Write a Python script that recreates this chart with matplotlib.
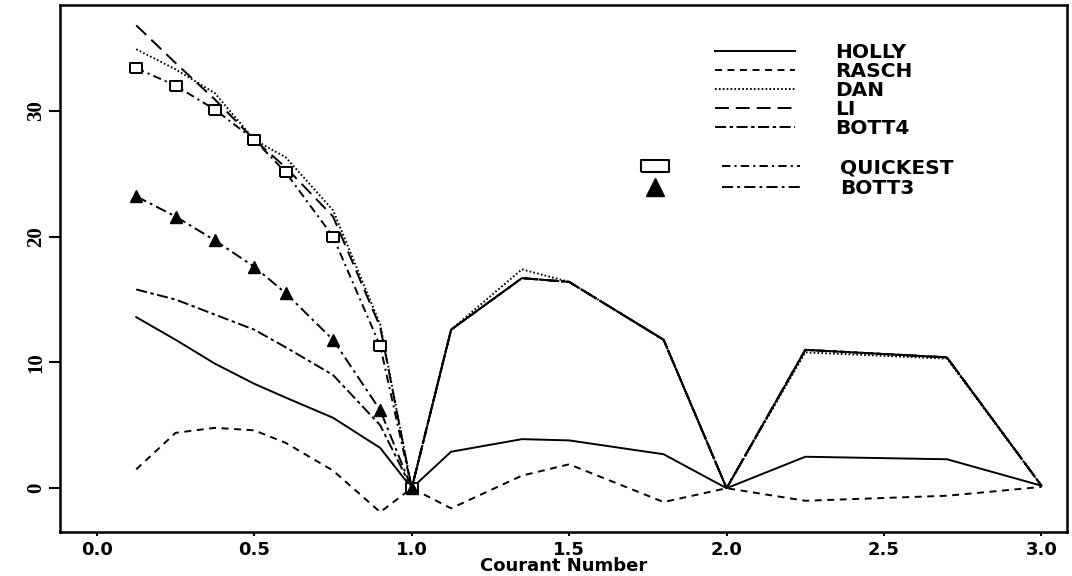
import numpy as np
import matplotlib.pyplot as plt
from matplotlib.lines import Line2D
from matplotlib.legend_handler import HandlerTuple

plt.rcParams['font.family'] = ['DejaVu Sans']
plt.rcParams['font.weight'] = 'bold'
plt.rcParams['lines.scale_dashes'] = False

# Courant numbers
courant = [0.125, 0.25, 0.375, 0.5, 0.6, 0.75, 0.9, 1.0,
           1.125, 1.35, 1.5, 1.8, 2.0, 2.25, 2.7, 3.0]

holly = [13.6, 11.8, 9.9, 8.3, 7.2, 5.6, 3.2, 0.0,
         2.9, 3.9, 3.8, 2.7, 0.0, 2.5, 2.3, 0.2]
rasch = [1.5, 4.4, 4.8, 4.6, 3.6, 1.4, -1.9, 0.0,
         -1.6, 1.0, 1.9, -1.1, 0.0, -1.0, -0.6, 0.1]
dan = [34.9, 33.3, 31.4, 27.7, 26.3, 22.1, 13.0, 0.0,
       12.6, 17.4, 16.4, 11.8, 0.0, 10.8, 10.3, 0.2]
li = [36.8, 33.8, 30.9, 27.7, 25.5, 21.6, 12.8, 0.0,
      12.6, 16.7, 16.4, 11.8, 0.0, 11.0, 10.4, 0.2]
bott4 = [15.8, 15.0, 13.8, 12.6, 11.2, 9.0, 5.0, 0.0,
         12.6, 16.7, 16.4, 11.8, 0.0, 11.0, 10.4, 0.2]
quickest = [33.4, 32.0, 30.1, 27.7, 25.1, 20.0, 11.3, 0.0,
            12.6, 16.7, 16.4, 11.8, 0.0, 11.0, 10.4, 0.2]
bott3 = [23.2, 21.6, 19.7, 17.6, 15.5, 11.8, 6.2, 0.0,
         12.6, 16.7, 16.4, 11.8, 0.0, 11.0, 10.4, 0.2]

# slightly flattened box marker, as in the printed figure
box_small = [(-1.2, -1), (1.2, -1), (1.2, 1), (-1.2, 1), (-1.2, -1)]
box_wide = [(-1.2, -0.5), (1.2, -0.5), (1.2, 0.5), (-1.2, 0.5), (-1.2, -0.5)]

fig = plt.figure(figsize=(10.72, 5.76), dpi=100)
ax = fig.add_axes([0.056, 0.076, 0.939, 0.915])

lw = 1.4
l_holly, = ax.plot(courant, holly, color='black', lw=lw, ls='-')
l_rasch, = ax.plot(courant, rasch, color='black', lw=lw, ls=(0, (5, 4)))
l_dan, = ax.plot(courant, dan, color='black', lw=lw, ls=(0, (1.2, 1.6)))
l_li, = ax.plot(courant, li, color='black', lw=lw, ls=(0, (10, 5)))
l_bott4, = ax.plot(courant, bott4, color='black', lw=lw, ls=(0, (8, 2.5, 2.5, 2.5)))
l_quick, = ax.plot(courant, quickest, color='black', lw=lw, ls=(0, (6, 3, 1.5, 3)),
                   marker=box_small, ms=9, mfc='white', mec='black', mew=1.4,
                   markevery=list(range(8)))
l_bott3, = ax.plot(courant, bott3, color='black', lw=lw, ls=(0, (8, 3, 2, 3)),
                   marker='^', ms=9, mfc='black', mec='black',
                   markevery=list(range(8)))

ax.set_xlim(-0.117, 3.08)
ax.set_ylim(-3.5, 38.4)
ax.set_xticks([0.0, 0.5, 1.0, 1.5, 2.0, 2.5, 3.0])
ax.set_xticklabels(['0.0', '0.5', '1.0', '1.5', '2.0', '2.5', '3.0'])
ax.set_yticks([0, 10, 20, 30])
ax.tick_params(axis='x', direction='out', length=3, width=1.5, labelsize=13, pad=3)
ax.tick_params(axis='y', direction='out', length=8, width=1.5, labelsize=15, pad=2)
for lab in ax.get_yticklabels():
    lab.set_rotation(90)
    lab.set_va('center')
    lab.set_family('Liberation Serif')
ax.set_xlabel('Courant Number', fontsize=13, fontweight='bold', labelpad=-1)
for s in ax.spines.values():
    s.set_linewidth(1.8)

fs = 14.5
fspx = fs * 100 / 72
leg1 = ax.legend([l_holly, l_rasch, l_dan, l_li, l_bott4],
                 ['HOLLY', 'RASCH', 'DAN', 'LI', 'BOTT4'],
                 loc='upper left', bbox_to_anchor=(0.651, 0.928),
                 frameon=False, fontsize=fs, handlelength=80 / fspx,
                 handletextpad=40 / fspx, labelspacing=0.0,
                 borderpad=0, borderaxespad=0)
ax.add_artist(leg1)

sq = Line2D([], [], ls='none', marker=box_wide, ms=20, mfc='white', mec='black', mew=1.5)
tri = Line2D([], [], ls='none', marker='^', ms=13, mfc='black', mec='black')
lq = Line2D([], [], color='black', lw=lw, ls=(0, (6, 3, 1.5, 3)))
lb = Line2D([], [], color='black', lw=lw, ls=(0, (8, 3, 2, 3)))
leg2 = ax.legend([(sq, lq), (tri, lb)], ['QUICKEST', 'BOTT3'],
                 loc='upper left', bbox_to_anchor=(0.552, 0.71),
                 frameon=False, fontsize=fs, handlelength=184 / fspx,
                 handletextpad=40 / fspx, labelspacing=0.1,
                 borderpad=0, borderaxespad=0,
                 handler_map={tuple: HandlerTuple(ndivide=None, pad=28 / fspx)})

fig.savefig('out.png', dpi=100)
